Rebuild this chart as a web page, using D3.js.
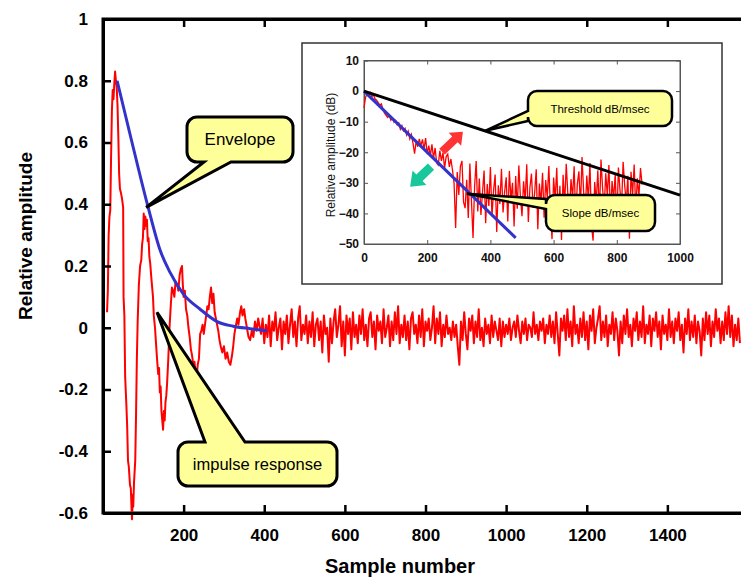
<!DOCTYPE html>
<html><head><meta charset="utf-8">
<script src="https://cdn.jsdelivr.net/npm/d3@7"></script>
<style>
body{margin:0;background:#fff}
svg{display:block}
text{font-family:"Liberation Sans",Arial,Helvetica,sans-serif}
</style>
</head><body>
<svg id="chart" width="741" height="580"></svg>
<script>
// ---------------- DATA ----------------
// main impulse response: early part (sample, value)
const earlySamples = [10,12,14,16,18,20,22,24,26,28,30,32,34,36,38,40,42,44,47,50,51,53,55,58,60,62,64,67,69,71,72,74,75,77,80,82,84,86,89,92,95,97,99,101,103,105,107,109,111,113,115,117,120,122,124,126,129,131,134,137,139,141,143,145,147,149,151,153,155,157,159,162,165,168,171,174,177,180,184,187,190,193,196,198,200,203,206,209,212,215,218,221,224,227,229,232,235,238,241,244,247,250,253,256,259,262,265,268,271,274,277,280,283,286,289,292,296,300,304,308,312,316,320,323,326,330,333,336,340,343,346,350,353,357,361,365,369,373,377,381,385,389];
const earlyValues = [0.05,0.12,0.30,0.36,0.38,0.55,0.70,0.77,0.74,0.79,0.83,0.80,0.78,0.72,0.62,0.50,0.45,0.44,0.42,0.39,0.10,0.04,-0.16,-0.25,-0.32,-0.43,-0.45,-0.51,-0.52,-0.59,-0.62,-0.54,-0.58,-0.50,-0.43,-0.28,-0.10,0.02,0.14,0.20,0.22,0.27,0.29,0.37,0.32,0.36,0.33,0.35,0.28,0.29,0.23,0.21,0.16,0.13,0.10,0.04,0.00,-0.04,-0.10,-0.15,-0.13,-0.21,-0.19,-0.27,-0.30,-0.33,-0.27,-0.30,-0.24,-0.22,-0.18,-0.10,0.00,0.07,0.13,0.12,0.10,0.15,0.14,0.12,0.17,0.19,0.20,0.14,0.10,0.12,0.06,0.04,0.00,-0.03,-0.07,-0.09,-0.12,-0.11,-0.14,-0.16,-0.12,-0.10,-0.02,-0.01,0.01,-0.02,0.01,0.04,0.07,0.06,0.10,0.13,0.08,0.11,0.05,0.03,0.01,-0.01,-0.04,-0.06,-0.08,-0.06,-0.10,-0.08,-0.11,-0.12,-0.09,-0.06,-0.02,0.01,0.03,0.01,0.05,0.07,0.04,0.06,0.03,0.00,-0.03,-0.04,-0.01,-0.03,0.02,-0.01,0.03,0.00];
// main impulse response: noise tail, one value every 4 samples from sample 392
const noiseStart = 392;
const noiseStep = 4;
const noiseValues = [
-0.02,0.03,-0.05,0.01,-0.03,0.04,-0.06,0.02,-0.01,0.05,-0.04,0.00,0.03,-0.07,0.02,-0.02,0.04,-0.05,0.01,0.06,-0.03,0.02,-0.06,0.03,0.07,-0.04,0.01,-0.02,0.04,-0.05,
0.02,-0.03,0.05,-0.06,0.01,0.03,-0.04,0.02,-0.08,0.04,-0.02,0.00,-0.11,0.03,-0.05,0.02,0.06,-0.03,0.01,0.07,-0.06,0.02,-0.09,0.04,-0.02,0.03,-0.07,0.05,-0.03,0.01,
-0.05,0.04,-0.02,0.06,-0.04,0.01,-0.06,0.03,0.05,-0.03,0.02,-0.07,0.04,-0.01,0.02,-0.05,0.06,-0.03,0.00,0.04,-0.06,0.02,-0.04,0.05,-0.02,0.07,-0.05,0.01,-0.03,0.04,
-0.04,0.02,-0.07,0.03,0.05,-0.02,0.01,-0.05,0.04,-0.03,0.06,-0.06,0.02,-0.01,0.03,-0.04,0.00,0.07,-0.05,0.03,-0.02,0.05,-0.06,0.01,-0.03,0.04,-0.02,0.00,-0.04,0.02,
-0.03,0.01,-0.06,-0.12,0.02,-0.04,0.05,-0.02,-0.07,0.03,-0.01,0.04,-0.05,0.02,-0.03,0.06,-0.04,0.00,-0.06,0.03,-0.02,0.01,-0.05,0.04,-0.03,0.02,-0.01,-0.04,0.03,-0.06,
0.02,-0.03,0.01,-0.02,0.03,-0.04,0.00,0.02,-0.03,0.04,-0.01,-0.05,0.02,-0.02,0.03,-0.04,0.01,0.00,-0.03,0.05,-0.02,0.01,-0.04,0.02,-0.01,0.03,-0.05,0.01,-0.02,0.04,
-0.03,0.02,-0.05,0.05,-0.02,-0.09,0.03,-0.01,0.04,-0.04,0.06,-0.03,0.02,-0.06,0.07,-0.02,0.01,-0.05,0.03,-0.03,0.05,-0.04,0.02,-0.07,0.04,-0.01,0.06,-0.05,0.00,0.03,
0.07,-0.04,0.02,-0.03,0.04,-0.06,0.01,-0.02,0.05,-0.04,0.03,-0.01,-0.09,0.02,-0.05,0.04,-0.02,0.06,-0.03,0.01,-0.06,0.03,-0.01,0.05,-0.04,0.02,-0.03,0.07,-0.05,0.01,
-0.02,0.04,-0.06,0.03,-0.01,0.05,-0.03,0.02,-0.07,0.04,-0.02,0.01,-0.04,0.06,-0.03,0.02,-0.05,0.03,-0.01,0.05,-0.04,0.01,-0.08,0.03,-0.02,0.06,-0.04,0.02,-0.03,0.04,
-0.05,0.02,-0.01,-0.09,0.03,-0.04,0.05,-0.02,0.04,-0.06,0.02,-0.03,0.06,-0.01,0.03,-0.05,0.02,-0.04,0.05,-0.02,0.07,-0.03,0.04,-0.06,0.01,-0.04,0.03,-0.05];
// envelope
const envelopeSamples = [35,72,112,142,166,199,241,283,323,365,407];
const envelopeValues  = [0.80,0.60,0.39,0.25,0.18,0.11,0.06,0.02,0.005,-0.003,-0.01];
const xTicks = [200,400,600,800,1000,1200,1400];
const yTicks = [-0.6,-0.4,-0.2,0,0.2,0.4,0.6,0.8,1];

// inset: decay in dB, one value every 5 samples from 0
const insetStep = 5;
const insetValues = [
-5.5,-2.0,-0.8,-1.5,-0.5,-1.8,-1.2,-2.6,-3.0,-3.8,-4.6,-4.2,-6.0,-7.2,-7.9,-8.6,-8.0,-9.5,-8.9,-10.2,
-9.6,-11.0,-10.4,-12.5,-11.3,-13.0,-12.2,-14.4,-13.1,-15.6,-14.2,-17.0,-20.5,-16.4,-18.2,-15.6,-17.9,-15.8,-19.0,-15.4,
-20.6,-17.8,-21.2,-17.4,-22.0,-18.6,-23.5,-24.2,-19.5,-22.8,-20.1,-25.3,-21.4,-20.6,-24.8,-22.2,-25.8,-30.1,-44.8,-26.5,
-34.0,-24.6,-22.8,-36.2,-38.3,-29.0,-41.5,-23.7,-35.8,-48.0,-31.2,-22.9,-39.4,-28.6,-40.5,-33.1,-26.0,-43.2,-30.4,-37.6,
-24.8,-41.0,-32.5,-27.3,-46.1,-30.8,-36.9,-25.4,-39.7,-33.0,-28.2,-42.6,-26.1,-35.4,-30.0,-44.3,-27.8,-38.5,-24.3,-34.7,
-40.9,-29.5,-36.0,-23.9,-42.8,-31.6,-27.0,-38.2,-33.4,-25.6,-45.2,-30.2,-36.8,-26.7,-41.4,-29.1,-34.9,-24.5,-39.3,-48.4,
-28.3,-35.5,-25.1,-41.8,-31.0,-48.7,-27.4,-37.1,-23.8,-33.6,-40.2,-28.8,-35.0,-24.6,-42.1,-30.5,-26.2,-37.8,-21.6,-32.9,
-39.8,-27.6,-35.7,-23.5,-44.0,-48.9,-29.7,-36.3,-25.9,-40.6,-22.4,-31.8,-38.7,-26.9,-34.1,-24.2,-41.2,-29.4,-35.2,-27.1,
-43.5,-25.0,-32.3,-38.0,-23.1,-30.9,-36.6,-27.7,-48.3,-26.4,-33.8,-24.0,-39.1,-28.5,-34.4,-25.2,-30.6];
const slopeSamples = [0,480];
const slopeDb = [0,-48];
const thresholdSamples = [0,1000];
const thresholdDb = [0,-34];
const insetXTicks = [0,200,400,600,800,1000];
const insetYTicks = [-50,-40,-30,-20,-10,0,10];

// ---------------- CHART ----------------
const svg = d3.select("#chart");
const x = d3.scaleLinear([0,1600],[103,748]);
const y = d3.scaleLinear([-0.6,1],[513,19]);
const FONT = '"Liberation Sans",Arial,sans-serif';

// plot frame as a white-filled box (drawn first, under the data)
svg.append("rect").attr("x",x(0)).attr("y",y(1)).attr("width",x(1600)-x(0)+10).attr("height",y(-0.6)-y(1))
  .attr("fill","#fff").attr("stroke","#000").attr("stroke-width",3);

const impulse = earlySamples.map((s,i)=>[s,earlyValues[i]])
  .concat(noiseValues.map((v,i)=>[noiseStart+i*noiseStep, v]));
const envelope = envelopeSamples.map((s,i)=>[s,envelopeValues[i]]);

svg.append("path").datum(impulse)
  .attr("d",d3.line().x(d=>x(d[0])).y(d=>y(d[1])))
  .attr("fill","none").attr("stroke","#ff0000").attr("stroke-width",2).attr("stroke-linejoin","round");
svg.append("path").datum(envelope)
  .attr("d",d3.line().x(d=>x(d[0])).y(d=>y(d[1])).curve(d3.curveMonotoneX))
  .attr("fill","none").attr("stroke","#3333cc").attr("stroke-width",3);

// main axes (inward ticks)
const gx = svg.append("g").attr("transform",`translate(0,${y(-0.6)})`)
  .call(d3.axisBottom(x).tickValues(xTicks).tickSize(-8).tickSizeOuter(0).tickPadding(16).tickFormat(d3.format("d")));
const gt = svg.append("g").attr("transform",`translate(0,${y(1)})`)
  .call(d3.axisTop(x).tickValues(xTicks).tickSize(-8).tickSizeOuter(0).tickFormat(""));
const gy = svg.append("g").attr("transform",`translate(${x(0)},0)`)
  .call(d3.axisLeft(y).tickValues(yTicks).tickSize(-8).tickSizeOuter(0).tickPadding(15).tickFormat(d=>String(+d.toFixed(1))));
[gx,gt,gy].forEach(g=>{
  g.select(".domain").attr("stroke","#000").attr("stroke-width",3);
  g.selectAll(".tick line").attr("stroke","#000").attr("stroke-width",2.5);
  g.selectAll(".tick text").attr("fill","#000").style("font-size","17px").style("font-weight","bold")
    .style("font-family",FONT);
});

svg.append("text").attr("x",400).attr("y",573).attr("text-anchor","middle")
  .style("font-size","20px").style("font-weight","bold").text("Sample number");
svg.append("text").attr("transform","translate(32,236) rotate(-90)").attr("text-anchor","middle")
  .style("font-size","19px").style("font-weight","bold").text("Relative amplitude");

// callout helper
function callout(g,b,side,b1,b2,tip,text,fs,sw){
  const {x:X,y:Y,w:W,h:H,r:R}=b;
  let p=`M${X+R},${Y}`;
  if(side==="top") p+=`L${b1},${Y}L${tip[0]},${tip[1]}L${b2},${Y}`;
  p+=`L${X+W-R},${Y}A${R},${R} 0 0 1 ${X+W},${Y+R}L${X+W},${Y+H-R}A${R},${R} 0 0 1 ${X+W-R},${Y+H}`;
  if(side==="bottom") p+=`L${b2},${Y+H}L${tip[0]},${tip[1]}L${b1},${Y+H}`;
  p+=`L${X+R},${Y+H}A${R},${R} 0 0 1 ${X},${Y+H-R}`;
  if(side==="left") p+=`L${X},${b2}L${tip[0]},${tip[1]}L${X},${b1}`;
  p+=`L${X},${Y+R}A${R},${R} 0 0 1 ${X+R},${Y}Z`;
  g.append("path").attr("d",p).attr("fill","#ffff99").attr("stroke","#000")
    .attr("stroke-width",sw).attr("stroke-linejoin","miter");
  g.append("text").attr("x",X+W/2).attr("y",Y+H/2).attr("dy","0.35em").attr("text-anchor","middle")
    .style("font-size",fs+"px").attr("fill","#000").text(text);
}
const ann = svg.append("g");
callout(ann,{x:187,y:117,w:106,h:45,r:10},"bottom",204,231,[x(107),y(0.39)],"Envelope",17,3);
callout(ann,{x:178,y:442,w:159,h:44,r:10},"top",205,245,[x(134),y(0.05)],"impulse response",16.5,3);

// ---------------- INSET ----------------
const inset = svg.append("g");
inset.append("rect").attr("x",302).attr("y",43).attr("width",420).attr("height",241)
  .attr("fill","#fff").attr("stroke","#333").attr("stroke-width",1.5);
const ix = d3.scaleLinear([0,1000],[364,680]);
const iy = d3.scaleLinear([-50,10],[244,60.5]);
inset.append("rect").attr("x",ix(0)).attr("y",iy(10)).attr("width",ix(1000)-ix(0)).attr("height",iy(-50)-iy(10))
  .attr("fill","#fff").attr("stroke","#555").attr("stroke-width",1);

const iStyle = g=>{
  g.select(".domain").attr("stroke","#555").attr("stroke-width",1);
  g.selectAll(".tick line").attr("stroke","#555").attr("stroke-width",1);
  g.selectAll(".tick text").attr("fill","#111").style("font-size","12px").style("font-weight","bold")
    .style("font-family",FONT);
};
inset.append("g").attr("transform",`translate(0,${iy(-50)})`)
  .call(d3.axisBottom(ix).tickValues(insetXTicks).tickSize(-4).tickSizeOuter(0).tickPadding(9).tickFormat(d3.format("d"))).call(iStyle);
inset.append("g").attr("transform",`translate(0,${iy(10)})`)
  .call(d3.axisTop(ix).tickValues(insetXTicks).tickSize(-4).tickSizeOuter(0).tickFormat("")).call(iStyle);
inset.append("g").attr("transform",`translate(${ix(0)},0)`)
  .call(d3.axisLeft(iy).tickValues(insetYTicks).tickSize(-4).tickSizeOuter(0).tickPadding(5).tickFormat(d3.format("d"))).call(iStyle);
inset.append("g").attr("transform",`translate(${ix(1000)},0)`)
  .call(d3.axisRight(iy).tickValues(insetYTicks).tickSize(-4).tickSizeOuter(0).tickFormat("")).call(iStyle);
inset.append("text").attr("transform","translate(335,155) rotate(-90)").attr("text-anchor","middle")
  .style("font-size","12px").attr("fill","#111").text("Relative amplitude (dB)");

const iline = d3.line().x(d=>ix(d[0])).y(d=>iy(d[1]));
inset.append("path").datum(insetValues.map((v,i)=>[i*insetStep,v])).attr("d",iline)
  .attr("fill","none").attr("stroke","#ff0000").attr("stroke-width",1.3);
inset.append("path").datum(slopeSamples.map((s,i)=>[s,slopeDb[i]])).attr("d",iline)
  .attr("fill","none").attr("stroke","#3333cc").attr("stroke-width",3);
inset.append("path").datum(thresholdSamples.map((s,i)=>[s,thresholdDb[i]])).attr("d",iline)
  .attr("fill","none").attr("stroke","#000").attr("stroke-width",3);

function blockArrow(p0,p1,sw,hw,hl,color){
  const dx=p1[0]-p0[0], dy=p1[1]-p0[1], L=Math.hypot(dx,dy), ux=dx/L, uy=dy/L, nx=-uy, ny=ux;
  const bx=p1[0]-ux*hl, by=p1[1]-uy*hl;
  const pts=[[p0[0]+nx*sw/2,p0[1]+ny*sw/2],[bx+nx*sw/2,by+ny*sw/2],[bx+nx*hw/2,by+ny*hw/2],p1,
    [bx-nx*hw/2,by-ny*hw/2],[bx-nx*sw/2,by-ny*sw/2],[p0[0]-nx*sw/2,p0[1]-ny*sw/2]];
  inset.append("path").attr("d","M"+pts.map(p=>p.join(",")).join("L")+"Z").attr("fill",color);
}
blockArrow([ix(247),iy(-19.8)],[ix(313),iy(-13.3)],8,18,11,"#ff3333");
blockArrow([ix(212),iy(-24.7)],[ix(146),iy(-31.3)],9,20,13,"#19c89a");

callout(inset,{x:528,y:91,w:144,h:35,r:9},"left",111,121,[ix(383),iy(-13.0)],"Threshold dB/msec",11.5,2.5);
callout(inset,{x:546,y:195,w:109,h:36,r:9},"left",199,209,[ix(326),iy(-33.6)],"Slope dB/msec",11.5,2.5);
</script>
</body></html>
